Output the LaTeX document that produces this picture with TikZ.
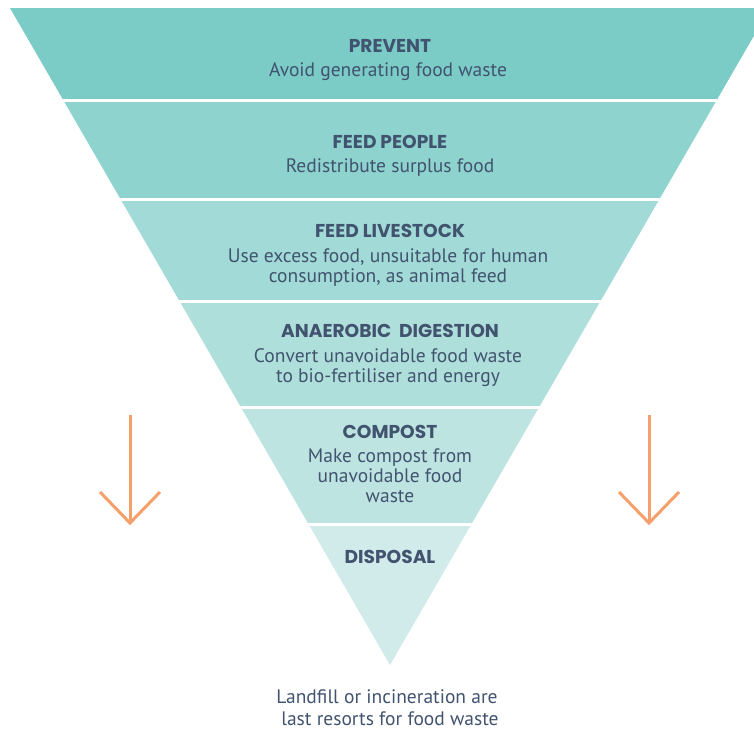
\documentclass[tikz,border=0pt]{standalone}
\usepackage{fontspec}
\setmainfont{PT Sans}
\newfontfamily\headfont{Poppins}
\usepackage{tikz}
\usetikzlibrary{calc}

\definecolor{bandA}{HTML}{7BCBC6}
\definecolor{bandB}{HTML}{8ED3CE}
\definecolor{bandC}{HTML}{A1DAD6}
\definecolor{bandD}{HTML}{AFDFDB}
\definecolor{bandE}{HTML}{BEE4E2}
\definecolor{bandF}{HTML}{D1EBEA}
\definecolor{inktext}{HTML}{41536F}
\definecolor{arroworange}{HTML}{F5A06A}

\tikzset{
  headtext/.style={anchor=base, text=inktext, inner sep=0pt, font=\headfont\bfseries\fontsize{18.6}{20}\selectfont},
  bodytext/.style={anchor=base, text=inktext, inner sep=0pt, font=\fontsize{19.5}{22}\selectfont},
  downarrow/.style={draw=arroworange, line width=3pt}
}

\begin{document}
\begin{tikzpicture}[x=1pt,y=-1pt]
			%%%%% START %%%%%
			\useasboundingbox (0,0) rectangle (754,729);
			
			\coordinate (topleft) at (10,8);
			\coordinate (topright) at (770,8);
			\coordinate (apex) at (390,665);
			
			\begin{scope}
				\clip (topleft) -- (topright) -- (apex) -- cycle;
				\fill[bandA] (0,0) rectangle (754,100);
				\fill[bandB] (0,100) rectangle (754,199);
				\fill[bandC] (0,199) rectangle (754,301);
				\fill[bandD] (0,301) rectangle (754,407);
				\fill[bandE] (0,407) rectangle (754,524);
				\fill[bandF] (0,524) rectangle (754,670);
				
				\draw[white, line width=3pt] (0,100) -- (754,100);
				\draw[white, line width=3pt] (0,199) -- (754,199);
				\draw[white, line width=3pt] (0,301) -- (754,301);
				\draw[white, line width=3pt] (0,407) -- (754,407);
				\draw[white, line width=3pt] (0,524) -- (754,524);
			\end{scope}
			
			\node[headtext] (prevent) at (390,52) {PREVENT};
			\node[bodytext] (preventtext) at (388,76) {Avoid generating food waste};
			
			\node[headtext] (feedpeople) at (390,148) {FEED PEOPLE};
			\node[bodytext] (feedpeopletext) at (390,172) {Redistribute surplus food};
			
			\node[headtext] (livestock) at (390,237) {FEED LIVESTOCK};
			\node[bodytext] (livestocktext) at (388,262) {Use excess food, unsuitable for human};
			\node[bodytext] (livestocktextb) at (388,282) {consumption, as animal feed};
			
			\node[headtext] (digestion) at (390,337) {ANAEROBIC~~DIGESTION};
			\node[bodytext] (digestiontext) at (388,362) {Convert unavoidable food waste};
			\node[bodytext] (digestiontextb) at (388,382) {to bio-fertiliser and energy};
			
			\node[headtext] (compost) at (390,438) {COMPOST};
			\node[bodytext] (composttext) at (390,462) {Make compost from};
			\node[bodytext] (composttextb) at (390,482) {unavoidable food};
			\node[bodytext] (composttextc) at (390,502) {waste};
			
			\node[headtext] (disposal) at (390,563) {DISPOSAL};
			
			\node[bodytext] (resorts) at (387,703) {Landfill or incineration are};
			\node[bodytext] (resortsb) at (390,725) {last resorts for food waste};
			
			% arrows
			\coordinate (leftstart) at (130,415);
			\coordinate (lefttip) at (130,523);
			\coordinate (leftarmA) at (100,492);
			\coordinate (leftarmB) at (160,492);
			\draw[downarrow] (leftstart) -- (lefttip);
			\draw[downarrow] (leftarmA) -- (lefttip) -- (leftarmB);
			
			\coordinate (rightstart) at (649,415);
			\coordinate (righttip) at (649,523);
			\coordinate (rightarmA) at (619,492);
			\coordinate (rightarmB) at (679,492);
			\draw[downarrow] (rightstart) -- (righttip);
			\draw[downarrow] (rightarmA) -- (righttip) -- (rightarmB);
			
			%%%%% END %%%%%
		\end{tikzpicture}
\end{document}
